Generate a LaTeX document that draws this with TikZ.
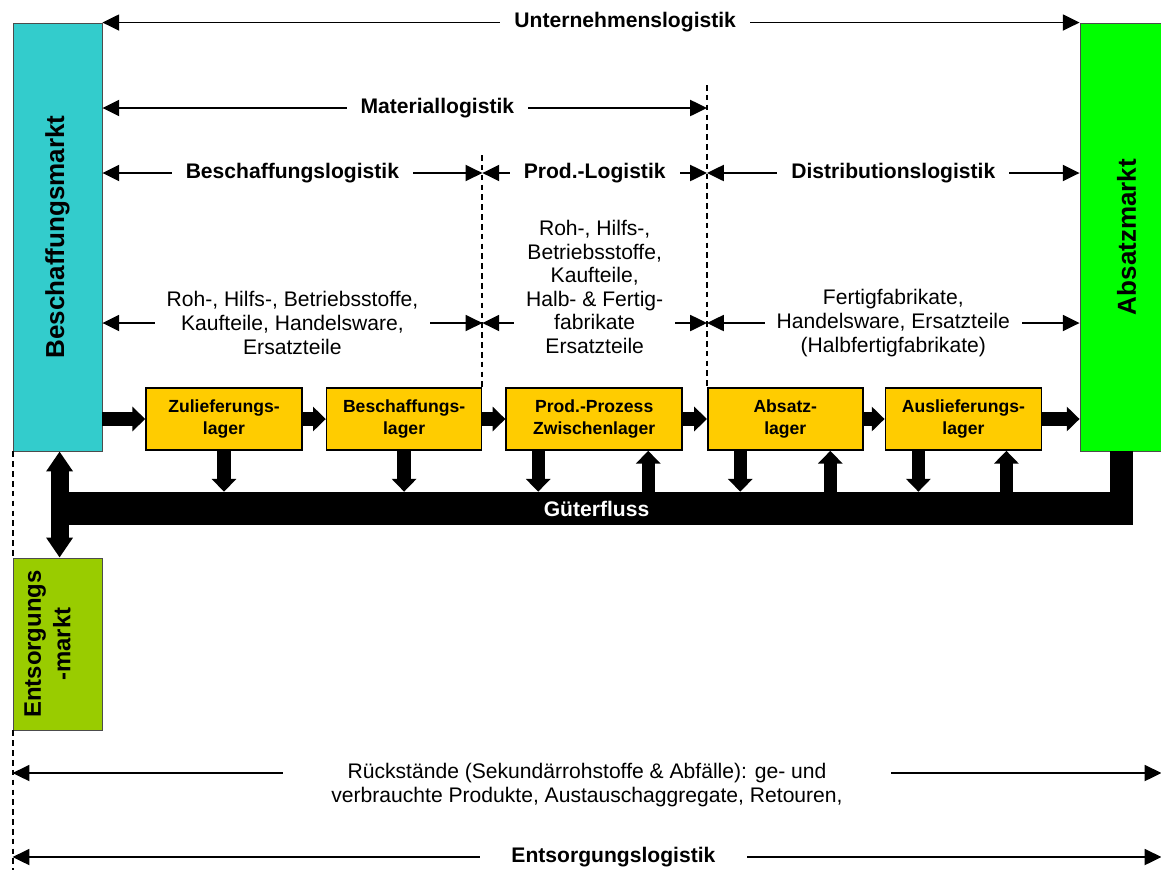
\documentclass[tikz,border=0pt]{standalone}
\usepackage{fontspec}
\setmainfont{Liberation Sans}
\usetikzlibrary{arrows.meta,positioning}
\definecolor{ink}{HTML}{000000}
\definecolor{cyanmarkt}{HTML}{33CCCC}
\definecolor{gruenmarkt}{HTML}{00FF00}
\definecolor{olivmarkt}{HTML}{99CC00}
\definecolor{lagergelb}{HTML}{FFCC00}

\begin{document}
\begin{tikzpicture}[x=0.025cm,y=-0.025cm,
  spanarrow/.style={line width=1.35pt,{Triangle[length=0.42cm,width=0.4cm]}-{Triangle[length=0.42cm,width=0.4cm]}},
  spanlabel/.style={fill=white,font=\fontsize{15}{17}\selectfont\bfseries,inner xsep=0.35cm,inner ysep=1pt},
  spantext/.style={fill=white,font=\fontsize{15}{16.8}\selectfont,align=center,inner xsep=0.3cm,inner ysep=1pt},
  grenze/.style={line width=1.35pt,dash pattern=on 4pt off 3pt},
  marktbox/.style={draw=black!70,line width=0.6pt,minimum width=2.225cm,inner sep=0pt},
  marktlabel/.style={rotate=90,font=\fontsize{18.5}{21}\selectfont\bfseries,align=center},
  lagerbox/.style={draw=ink,line width=1.1pt,fill=lagergelb,minimum height=1.55cm,inner sep=0pt,font=\fontsize{12.5}{15}\selectfont\bfseries,align=center},
  flussarrow/.style={line width=0.33cm,-{Triangle[length=0.32cm,width=0.6cm]}},
  doppelpfeil/.style={line width=0.45cm,{Triangle[length=0.5cm,width=0.64cm]}-{Triangle[length=0.5cm,width=0.64cm]}}]
\useasboundingbox (0,0) rectangle (1161,870);
\clip (0,0) rectangle (1161,870);

% maerkte
\node[marktbox,fill=cyanmarkt,minimum height=10.7cm] (bm) at (57.5,237) {};
\node[marktlabel] at (bm.center) {Beschaffungsmarkt};
\node[marktbox,fill=gruenmarkt,minimum width=2.025cm,minimum height=10.7cm] (am) at (1120.5,237) {};
\node[marktlabel] at ([xshift=0.15cm]am.center) {Absatzmarkt};
\node[marktbox,fill=olivmarkt,minimum height=4.3cm] (em) at (57.5,644) {};
\node[marktlabel,font=\fontsize{17}{21}\selectfont\bfseries] at ([xshift=-0.25cm]em.center) {Entsorgungs\\-markt};

% lager
\node[lagerbox,minimum width=3.9cm] (zl) at (224,419) {Zulieferungs-\\lager};
\node[lagerbox,minimum width=3.875cm,right=0.575cm of zl] (bl) {Beschaffungs-\\lager};
\node[lagerbox,minimum width=4.4cm,right=0.575cm of bl] (pp) {Prod.-Prozess\\Zwischenlager};
\node[lagerbox,minimum width=3.875cm,right=0.6cm of pp] (ab) {Absatz-\\lager};
\node[lagerbox,minimum width=3.9cm,right=0.525cm of ab] (au) {Auslieferungs-\\lager};

% gueterfluss
\node[fill=ink,text=white,minimum width=26.825cm,minimum height=0.825cm,inner sep=0pt,font=\fontsize{15}{17}\selectfont\bfseries] (gf) at (596.5,508.5) {Güterfluss};
\fill[ink] (1110,451) rectangle (gf.south east);

\draw[flussarrow] (bm.east |- zl.west) -- (zl.west);
\draw[flussarrow] (zl.east) -- (bl.west);
\draw[flussarrow] (bl.east) -- (pp.west);
\draw[flussarrow] (pp.east) -- (ab.west);
\draw[flussarrow] (ab.east) -- (au.west);
\draw[flussarrow] (au.east) -- (au.east -| am.west);

\draw[flussarrow] (zl.south) -- (zl.south |- gf.north);
\draw[flussarrow] (bl.south) -- (bl.south |- gf.north);
\draw[flussarrow] ([xshift=-1.4cm]pp.south) -- ([xshift=-1.4cm]pp.south |- gf.north);
\draw[flussarrow] ([xshift=1.35cm]pp.south |- gf.north) -- ([xshift=1.35cm]pp.south);
\draw[flussarrow] ([xshift=-1.125cm]ab.south) -- ([xshift=-1.125cm]ab.south |- gf.north);
\draw[flussarrow] ([xshift=1.125cm]ab.south |- gf.north) -- ([xshift=1.125cm]ab.south);
\draw[flussarrow] ([xshift=-1.125cm]au.south) -- ([xshift=-1.125cm]au.south |- gf.north);
\draw[flussarrow] ([xshift=1.075cm]au.south |- gf.north) -- ([xshift=1.075cm]au.south);
\draw[doppelpfeil] (bm.south -| gf.west) -- (em.north -| gf.west);

% grenzen
\draw[grenze] (bl.north east |- 0,155) -- (bl.north east);
\draw[grenze] (ab.north west |- 0,85) -- (ab.north west);
\draw[grenze] (bm.south west) -- (em.north west);
\draw[grenze] (em.south west) -- (em.south west |- 0,870);

% logistikbereiche
\draw[spanarrow] (bm.north east) -- node[spanlabel,pos=0.535]{Unternehmenslogistik} (am.north west);
\draw[spanarrow] (bm.east |- 0,108) -- node[spanlabel,pos=0.554]{Materiallogistik} (ab.north west |- 0,108);
\draw[spanarrow] (bm.east |- 0,173) -- node[spanlabel]{Beschaffungslogistik} (bl.north east |- 0,173);
\draw[spanarrow] (bl.north east |- 0,173) -- node[spanlabel]{Prod.-Logistik} (ab.north west |- 0,173);
\draw[spanarrow] (ab.north west |- 0,173) -- node[spanlabel]{Distributionslogistik} (am.west |- 0,173);

\draw[spanarrow] (bm.east |- 0,323) -- node[spantext]{Roh-, Hilfs-, Betriebsstoffe,\\Kaufteile, Handelsware,\\Ersatzteile} (bl.north east |- 0,323);
\draw[spanarrow] (bl.north east |- 0,323) -- node[spantext,yshift=0.9cm]{Roh-, Hilfs-,\\Betriebsstoffe,\\Kaufteile,\\Halb- \& Fertig-\\fabrikate\\Ersatzteile} (ab.north west |- 0,323);
\draw[spanarrow] (ab.north west |- 0,323) -- node[spantext]{Fertigfabrikate,\\Handelsware, Ersatzteile\\(Halbfertigfabrikate)} (am.west |- 0,323);

\draw[spanarrow] (em.west |- 0,773) -- node[spantext,yshift=-0.3cm,inner xsep=1.2cm]{Rückstände (Sekundärrohstoffe \& Abfälle): ge- und\\verbrauchte Produkte, Austauschaggregate, Retouren,} (am.east |- 0,773);
\draw[spanarrow] (em.west |- 0,857) -- node[spanlabel,pos=0.523,inner xsep=0.78cm]{Entsorgungslogistik} (am.east |- 0,857);
\end{tikzpicture}
\end{document}
